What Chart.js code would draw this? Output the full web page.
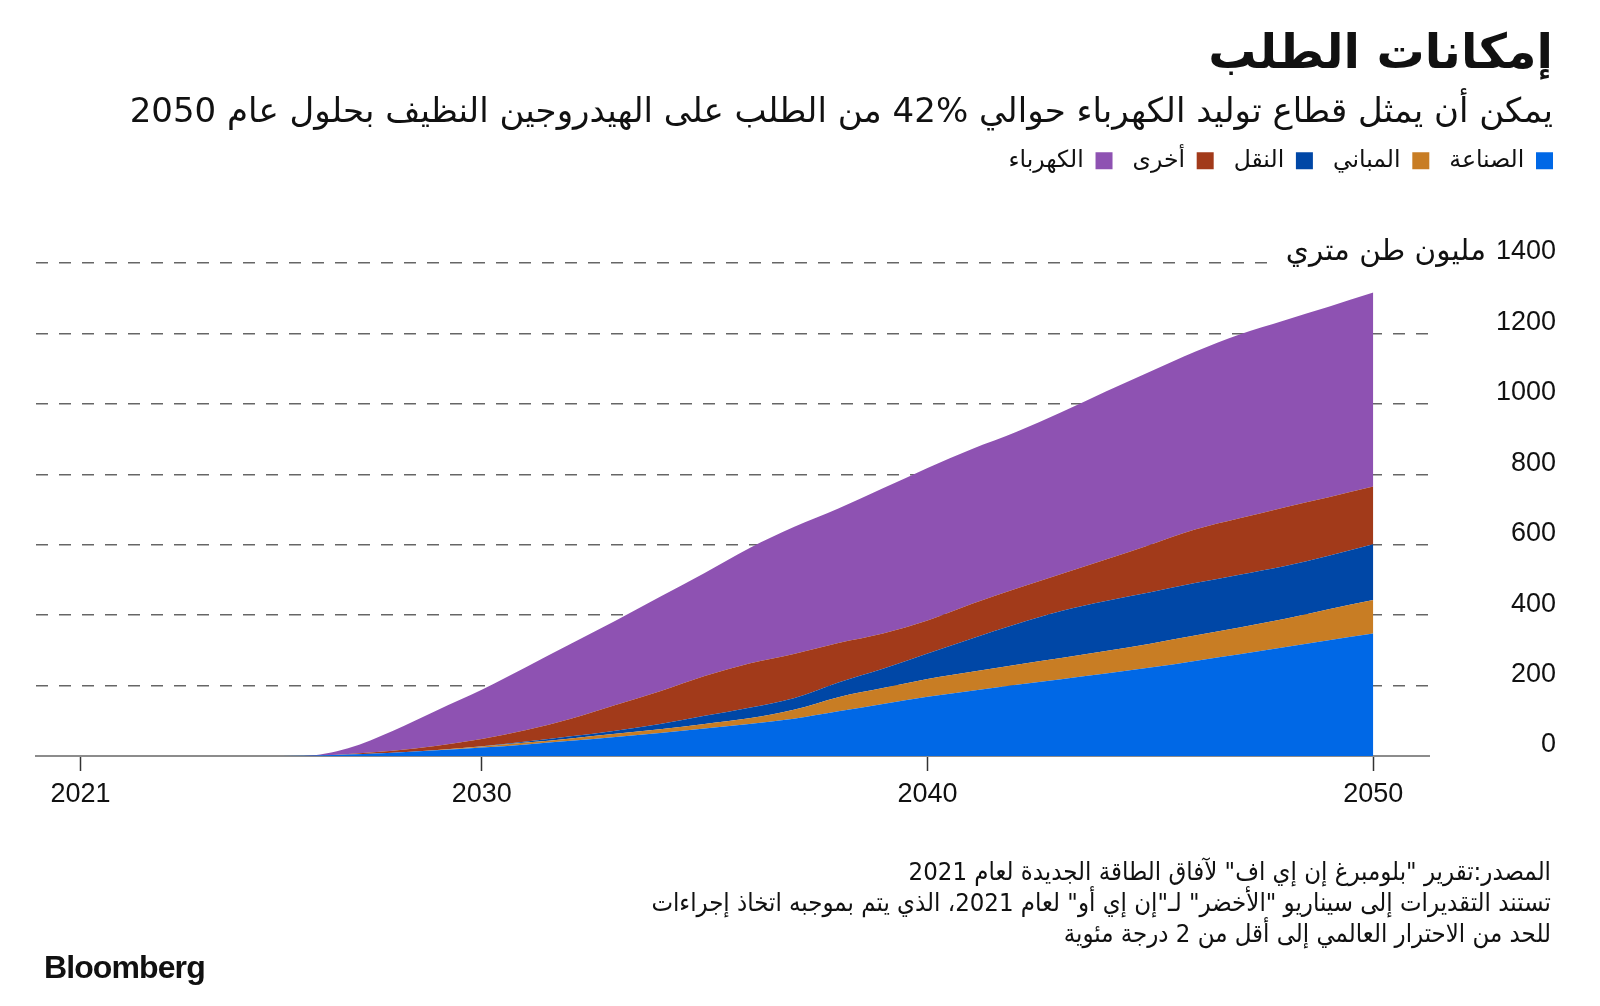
<!DOCTYPE html>
<html lang="ar">
<head>
<meta charset="utf-8">
<script src="https://cdn.jsdelivr.net/npm/chart.js@4.4.0/dist/chart.umd.min.js"></script>
<style>
  html, body { margin: 0; padding: 0; background: #fff; }
  body { width: 1600px; height: 1006px; position: relative; overflow: hidden; font-family: "DejaVu Sans", sans-serif; color: #111; }
  #chart { position: absolute; left: 0; top: 0; }
  .txt { position: absolute; direction: rtl; text-align: right; white-space: nowrap; }
  #title { right: 47px; top: 25px; font-size: 48px; line-height: 52px; font-weight: bold; }
  #subtitle { right: 47px; top: 90px; font-size: 34px; line-height: 40px; }
  #notes { right: 49px; top: 856px; font-size: 25.5px; line-height: 31px; font-family: "DejaVu Sans Condensed", "DejaVu Sans", sans-serif; }
  #logo { position: absolute; left: 44px; top: 949px; font-family: "Liberation Sans", Arial, sans-serif; font-weight: bold; font-size: 32px; line-height: 36px; letter-spacing: -0.9px; }
</style>
</head>
<body>
<canvas id="chart" width="1600" height="1006"></canvas>
<div class="txt" id="title">إمكانات الطلب</div>
<div class="txt" id="subtitle">يمكن أن يمثل قطاع توليد الكهرباء حوالي %42 من الطلب على الهيدروجين النظيف بحلول عام 2050</div>
<div class="txt" id="notes">
  <div>المصدر:تقرير "بلومبرغ إن إي اف" لآفاق الطاقة الجديدة لعام 2021</div>
  <div>تستند التقديرات إلى سيناريو "الأخضر" لـ"إن إي أو" لعام 2021، الذي يتم بموجبه اتخاذ إجراءات</div>
  <div>للحد من الاحترار العالمي إلى أقل من 2 درجة مئوية</div>
</div>
<div id="logo">Bloomberg</div>
<script>
// years shown on the x axis
const years = [2021, 2022, 2023, 2024, 2025, 2026, 2027, 2028, 2029, 2030,
  2031, 2032, 2033, 2034, 2035, 2036, 2037, 2038, 2039, 2040,
  2041, 2042, 2043, 2044, 2045, 2046, 2047, 2048, 2049, 2050]
const xTicks = [2021, 2030, 2040, 2050]

// hydrogen demand, million tonnes
const industry = [0, 0, 0, 0, 0, 0.5, 4, 9, 16, 24, 33, 43, 54, 65, 78, 91, 106, 127, 148, 168,
  185, 202, 218, 234, 251, 270, 289, 309, 329, 348]
const buildings = [0, 0, 0, 0, 0, 0, 0, 0, 1, 3, 5, 7, 9, 11, 13, 16, 25, 40, 45, 51,
  54, 57, 60, 64, 68, 72, 76, 80, 88, 95]
const transport = [0, 0, 0, 0, 0, 0, 0, 0, 0, 1, 3, 6, 9, 15, 23, 30, 33, 42, 55, 72,
  95, 116, 134, 142, 146, 149, 150, 150, 152, 158]
const other = [0, 0, 0, 0, 0, 0, 2, 6, 12, 20, 33, 50, 73, 93, 113, 126, 126, 112, 100, 94,
  98, 101, 105, 118, 135, 152, 160, 167, 166, 164]
const power = [0, 0, 0, 0, 0, 0, 16, 56, 101, 140, 179, 213, 239, 268, 293, 327, 360, 382, 412, 433,
  440, 445, 459, 477, 492, 505, 522, 531, 541, 551]

const seriesNames = ['الصناعة', 'المباني', 'النقل', 'أخرى', 'الكهرباء']
const seriesColors = ['#0068e6', '#c87d24', '#0047a6', '#a23a1a', '#8e52b2']
const seriesValues = [industry, buildings, transport, other, power]

const unitLabel = 'مليون طن متري'
const tickFont = { family: '"Liberation Sans", Arial, sans-serif', size: 27 }

const datasets = seriesValues.map((vals, i) => ({
  label: seriesNames[i],
  data: years.map((yr, j) => ({ x: yr, y: vals[j] })),
  backgroundColor: seriesColors[i],
  borderColor: seriesColors[i],
  borderWidth: 0,
  pointRadius: 0,
  fill: i === 0 ? 'origin' : '-1',
  cubicInterpolationMode: 'monotone'
}))

// fixed legend block height, and nudge it to the right edge of the title
const legendPlace = {
  id: 'legendPlace',
  beforeInit(chart) {
    const fit = chart.legend.fit
    chart.legend.fit = function () {
      fit.call(this)
      this.height = 134
    }
  },
  afterLayout(chart) {
    chart.legend.left += 17
    chart.legend.right += 17
  }
}

const unitText = {
  id: 'unitText',
  afterDraw(chart) {
    const { ctx } = chart
    const y = chart.scales.y
    const py = y.getPixelForValue(1400) - 11
    ctx.save()
    ctx.font = `${tickFont.size}px ${tickFont.family}`
    const w = ctx.measureText('1400').width
    ctx.font = '29.5px "DejaVu Sans", sans-serif'
    const right = y.right - w - 10
    const uw = ctx.measureText(unitLabel).width
    ctx.fillStyle = '#fff'
    ctx.fillRect(right - uw - 8, py - 20, uw + 12, 40)
    ctx.fillStyle = '#111'
    ctx.direction = 'rtl'
    ctx.textAlign = 'right'
    ctx.textBaseline = 'middle'
    ctx.fillText(unitLabel, right, py)
    ctx.restore()
  }
}

new Chart(document.getElementById('chart'), {
  type: 'line',
  data: { datasets },
  options: {
    responsive: false,
    animation: false,
    devicePixelRatio: 1,
    layout: { padding: { top: 129, left: 36, right: 44, bottom: 0 } },
    plugins: {
      legend: {
        position: 'top',
        align: 'start',
        rtl: true,
        textDirection: 'rtl',
        labels: {
          boxWidth: 17,
          boxHeight: 17,
          padding: 20,
          color: '#111',
          font: { family: '"DejaVu Sans", sans-serif', size: 23.5 }
        }
      },
      tooltip: { enabled: false }
    },
    scales: {
      x: {
        type: 'linear',
        min: 2020,
        max: 2051.25,
        afterBuildTicks: (scale) => { scale.ticks = xTicks.map(v => ({ value: v })) },
        afterFit: (scale) => { scale.height = 250 },
        grid: { drawOnChartArea: false, drawTicks: true, tickLength: 15, tickColor: '#333', tickWidth: 1.5 },
        border: { display: true, color: '#8c8c8c', width: 2 },
        ticks: { font: tickFont, color: '#111', padding: 7, maxRotation: 0, callback: v => String(v) }
      },
      y: {
        position: 'right',
        stacked: true,
        min: 0,
        max: 1400,
        afterFit: (scale) => { scale.width = 127 },
        grid: {
          color: (c) => c.tick && c.tick.value === 0 ? 'rgba(0,0,0,0)' : '#666',
          lineWidth: 1.5,
          drawTicks: false
        },
        border: { display: false, dash: [12, 11] },
        ticks: { stepSize: 200, font: tickFont, color: '#111', crossAlign: 'far', labelOffset: -11, callback: v => String(v) }
      }
    }
  },
  plugins: [legendPlace, unitText]
})
</script>
</body>
</html>
